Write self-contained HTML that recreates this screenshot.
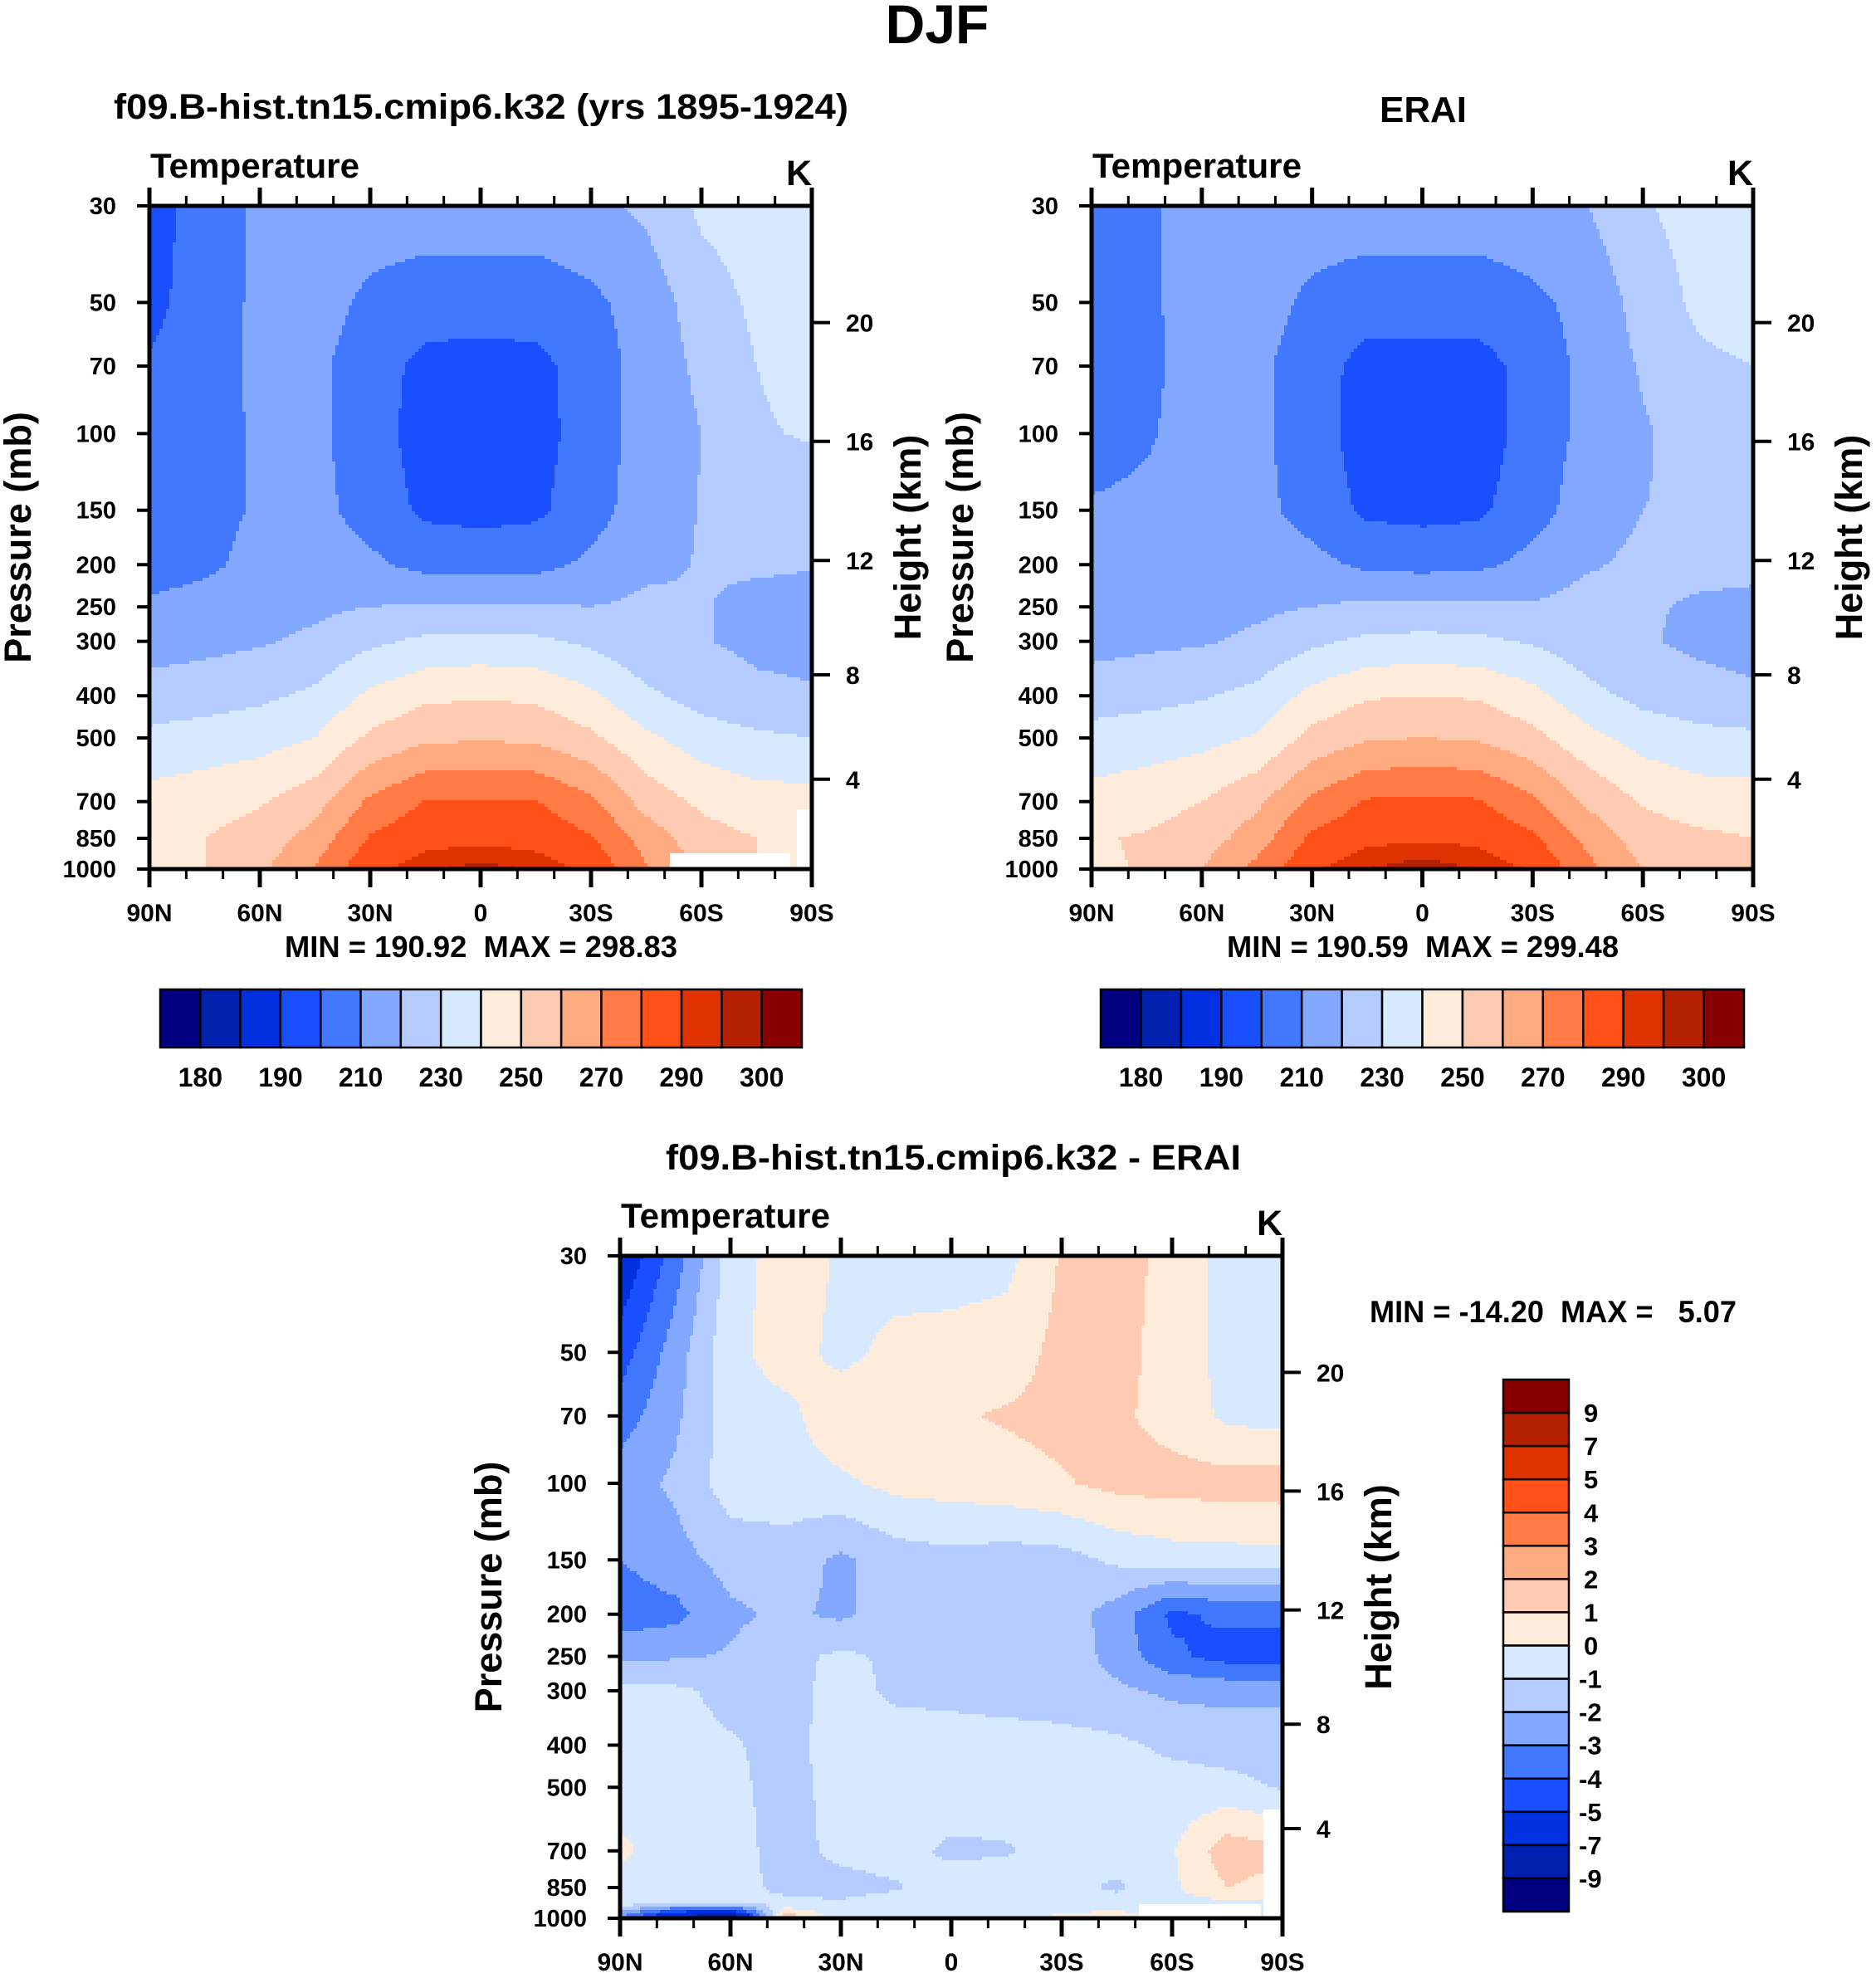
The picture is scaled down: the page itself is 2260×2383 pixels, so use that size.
<!DOCTYPE html>
<html><head><meta charset="utf-8">
<style>
html,body{margin:0;padding:0;background:#fff;}
svg{display:block;}
text{font-family:"Liberation Sans",Arial,sans-serif;font-weight:bold;fill:#000;}
</style></head>
<body>
<svg id="root" width="2260" height="2383" viewBox="0 0 2260 2383" xmlns="http://www.w3.org/2000/svg">
<text x="1129" y="52" font-size="66" text-anchor="middle">DJF</text>
<text x="137" y="143" font-size="43" textLength="885" lengthAdjust="spacingAndGlyphs">f09.B-hist.tn15.cmip6.k32 (yrs 1895-1924)</text>
<text x="1662" y="147" font-size="44" textLength="105" lengthAdjust="spacingAndGlyphs">ERAI</text>
<text x="802" y="1409" font-size="43" textLength="693" lengthAdjust="spacingAndGlyphs">f09.B-hist.tn15.cmip6.k32 - ERAI</text>
<text x="343" y="1153" font-size="36" textLength="473" lengthAdjust="spacingAndGlyphs" xml:space="preserve">MIN = 190.92  MAX = 298.83</text>
<text x="1478" y="1153" font-size="36" textLength="472" lengthAdjust="spacingAndGlyphs" xml:space="preserve">MIN = 190.59  MAX = 299.48</text>
<text x="1650" y="1593" font-size="37" textLength="442" lengthAdjust="spacingAndGlyphs" xml:space="preserve">MIN = -14.20  MAX =   5.07</text>
<g id="panels"></g>
</svg>
<script>
// ---------- data ----------
const latLabels = ["90N","60N","30N","0","30S","60S","90S"];
const gridLats = [90,75,60,45,30,15,0,-15,-30,-45,-60,-75,-90];
const tLevels = [30,50,70,100,150,200,250,300,400,500,700,850,1000];
const tempBounds = [180,185,190,200,210,220,230,240,250,260,270,280,290,295,300];
const tempTickLabels = ["180","190","210","230","250","270","290","300"];
const diffBounds = [-9,-7,-5,-4,-3,-2,-1,0,1,2,3,4,5,7,9];
const diffTickLabels = ["9","7","5","4","3","2","1","0","-1","-2","-3","-4","-5","-7","-9"];
const pressureTicks = [30,50,70,100,150,200,250,300,400,500,700,850,1000];
const heightTicks = [4,8,12,16,20];
const heightTickPressure = [622,358,195.6,104.2,55.6];
const palette = ["#000080","#0020b0","#0030e0","#1a4fff","#4178ff","#82a8ff","#b4ccff","#d7e9ff","#feebd9","#fecbb2","#feab82","#ff7a45","#ff5018","#e03200","#b52000","#880000"];

const modelTemp = [
 [196,204,212,215,215,215,215,215,217,222,232,235,235],
 [197,205,212,214,208,205,205,205,208,214,225,232,235],
 [201,206,212,212,205,197,196,197,205,214,222,230,233],
 [203,207,211,212,205,195,194,196,205,214,220,229,231],
 [204,207,211,213,206,198,197,198,206,215,220.5,223,223],
 [205,208,213,215,212,207,206,207,212,218,220.5,221,220.5],
 [212,214,216,218,220,221,221,221,220,222,220.5,218,217],
 [215,217,219,222,228,232,233,232,228,222,220.5,218,217],
 [225,226,228,232,242,248,249,248,242,232,226,222,221],
 [232,234,236,240,252,258,259,258,252,242,235,232,230],
 [244,246,249,256,272,280.5,281,280.5,272,256,248,244,244],
 [248,250,254,264,281,287,288,287,281,266,254,250,248],
 [246,250,258,271,288,294,297,294,288,271,258,250,245]];
const eraTemp = [
 [204,208,215,215,215,215,215,215,216,220,229,234,235],
 [204,208,215,214,208,205,205,205,208,213,224,232,235],
 [205,208,214,212,205,196,196,196,204,213,221,228,230],
 [206,209,214,212,205,195,194,195,204,213,219,224,225],
 [211,212,214,213,206,198,197,198,206,215,220,221,221],
 [213,214,216,215,213,208,207,208,213,219,222,222,222],
 [214,215,216,218,220,222,222,222,221,224,221,219,218],
 [216,218,219,222,228,232,233,232,229,224,221,218,216],
 [226,227,229,233,243,249,250,249,243,233,227,224,222],
 [233,235,237,241,253,259,260,259,253,243,236,233,232],
 [244,246,250,258,272,281,282,281,272,258,249,245,245],
 [249,251,255,265,282,288,289,288,282,267,255,252,250],
 [248,251,260,273,289,295,298,295,289,273,260,253,252]];
const dLevels = [30,50,70,100,150,200,250,300,400,500,700,850,925,1000];
const diffTemp = [
 [-6,-3.5,-0.5,0.5,-0.1,-0.5,-0.5,-0.3,1.1,1.5,0.6,-0.3,-0.5],
 [-4.5,-2.5,-0.3,0.5,-0.3,0.3,0.4,0.5,1.3,1.4,0.5,-0.3,-0.8],
 [-3.5,-2.2,-0.5,-0.3,0.7,1.0,0.9,1.1,1.3,1.2,0.6,-0.2,-0.4],
 [-2.5,-1.8,-0.5,-0.4,-0.2,0.3,0.4,0.6,0.9,1.3,1.4,1.4,1.5],
 [-3.0,-2.4,-1.6,-1.5,-2.2,-1.5,-1.3,-1.5,-1.4,-0.8,-0.5,-0.4,-0.4],
 [-3.6,-3.3,-2.2,-1.8,-2.2,-1.5,-1.4,-1.3,-1.4,-2.5,-4.2,-3.8,-3.8],
 [-2.2,-2.1,-1.9,-1.3,-0.8,-1.2,-1.3,-1.6,-1.3,-2.4,-3.8,-4.4,-4.5],
 [-0.7,-0.8,-1.3,-1.4,-0.6,-1.2,-1.3,-1.5,-1.6,-1.8,-2.2,-2.3,-2.3],
 [-0.5,-0.6,-0.9,-1.3,-0.6,-0.5,-0.5,-0.5,-0.6,-0.8,-1.2,-1.4,-1.4],
 [-0.5,-0.6,-0.8,-1.3,-0.7,-0.4,-0.4,-0.4,-0.5,-0.6,-0.6,-0.7,-1.1],
 [0.2,-0.5,-0.7,-1.3,-0.8,-0.6,-1.2,-1.1,-0.6,-0.4,-0.1,1.6,1.2],
 [-0.5,-0.5,-0.7,-1.2,-1.3,-1.1,-0.5,-0.4,-0.6,-1.2,-0.2,1.0,0.6],
 [-0.6,-0.8,-0.9,-0.8,-0.9,-0.6,-0.4,-0.4,-0.5,-0.5,-0.3,-0.3,-0.3],
 [-3,-8,-10,2,-0.5,-0.4,-0.3,-0.5,0.3,0.5,-0.3,-0.5,-0.5]];

// ---------- helpers ----------
const NS="http://www.w3.org/2000/svg";
const panels=document.getElementById('panels');
function mk(tag,attrs,parent){const e=document.createElementNS(NS,tag);for(const k in attrs)e.setAttribute(k,attrs[k]);(parent||panels).appendChild(e);return e;}
function binIndex(v,bounds){let i=0;while(i<bounds.length&&v>=bounds[i])i++;return i;}

function drawPanel(name,x0,y0,W,H,levels,grid,bounds,mask){
  const g=mk('g',{});
  
  
  const lp0=Math.log(30),lp1=Math.log(1000);
  const xOfLat=lat=>x0+(90-lat)/180*W;
  const yOfP=p=>y0+(Math.log(p)-lp0)/(lp1-lp0)*H;
  const lgl=levels.map(p=>Math.log(p));
  function sample(px,py){
    const lat=90-(px-x0)/W*180;
    let fi=(90-lat)/15; if(fi<0)fi=0; if(fi>gridLats.length-1)fi=gridLats.length-1;
    let i0=Math.min(Math.floor(fi),gridLats.length-2); const fx=fi-i0;
    const lp=lp0+(py-y0)/H*(lp1-lp0);
    let j0=0; while(j0<lgl.length-2&&lp>lgl[j0+1])j0++;
    let fy=(lp-lgl[j0])/(lgl[j0+1]-lgl[j0]); fy=Math.max(0,Math.min(1,fy));
    const a=grid[j0][i0],b=grid[j0][i0+1],c=grid[j0+1][i0],d=grid[j0+1][i0+1];
    return (a*(1-fx)+b*fx)*(1-fy)+(c*(1-fx)+d*fx)*fy;
  }
  const cs=4, nx=Math.ceil(W/cs), ny=Math.ceil(H/cs);
  const fg=mk('g',{},g);
  
  
  for(let r=0;r<ny;r++){
    const py=y0+(r+0.5)*cs; let runStart=0, runCol=-1;
    for(let c=0;c<=nx;c++){
      const col=c<nx?binIndex(sample(x0+(c+0.5)*cs,py),bounds):-2;
      if(col!==runCol){
        if(runCol>=0){
          const rx=x0+runStart*cs, rw=Math.min(c*cs,W)-runStart*cs;
          const rh=Math.min(cs,H-r*cs);
          const rc=mk('rect',{x:rx,y:y0+r*cs,width:rw+0.6,height:rh+0.6,fill:palette[runCol]},fg);
          
          
        }
        runStart=c; runCol=col;
      }
    }
  }
  (mask||[]).forEach(m=>{const mr=mk('rect',{x:m[0],y:m[1],width:m[2],height:m[3],fill:'#fff'},g);
    
    });
  const fr=mk('rect',{x:x0,y:y0,width:W,height:H,fill:'none',stroke:'#000','stroke-width':5},g);
  
  
  for(let lat=90;lat>=-90;lat-=10){
    const x=xOfLat(lat), major=(lat%30===0);
    const L=major?22:12;
    mk('line',{x1:x,y1:y0,x2:x,y2:y0-L,stroke:'#000','stroke-width':major?5:3},g);
    mk('line',{x1:x,y1:y0+H,x2:x,y2:y0+H+L,stroke:'#000','stroke-width':major?5:3},g);
  }
  latLabels.forEach((lb,i)=>{
    const t=mk('text',{x:xOfLat(90-30*i),y:y0+H+63,'font-size':30,'text-anchor':'middle'},g);
    t.textContent=lb;
    
    
  });
  pressureTicks.forEach(p=>{
    const y=yOfP(p);
    mk('line',{x1:x0,y1:y,x2:x0-15,y2:y,stroke:'#000','stroke-width':4},g);
    const t=mk('text',{x:x0-40,y:y+10,'font-size':29,'text-anchor':'end'},g);
    t.textContent=String(p);
    
    
  });
  heightTicks.forEach((z,i)=>{
    const y=yOfP(heightTickPressure[i]);
    mk('line',{x1:x0+W,y1:y,x2:x0+W+22,y2:y,stroke:'#000','stroke-width':4},g);
    const t=mk('text',{x:x0+W+41,y:y+11,'font-size':30},g);
    t.textContent=String(z);
    
    
  });
  const tt=mk('text',{x:x0+1,y:y0-34,'font-size':42,textLength:252,lengthAdjust:'spacingAndGlyphs'},g); tt.textContent='Temperature';
  
  
  const kk=mk('text',{x:x0+W,y:y0-25,'font-size':43,'text-anchor':'end'},g); kk.textContent='K';
  
  
  const yl=mk('text',{x:0,y:0,'font-size':45,'text-anchor':'middle',transform:`translate(${x0-143},${y0+H/2}) rotate(-90)`},g);
  yl.textContent='Pressure (mb)';
  
  
  const hl=mk('text',{x:0,y:0,'font-size':45,'text-anchor':'middle',transform:`translate(${x0+W+131},${y0+H/2}) rotate(-90)`},g);
  hl.textContent='Height (km)';
  
  
}

function hColorbar(name,x0,y0,W,H){
  const g=mk('g',{});
  
  
  const bw=W/palette.length;
  palette.forEach((c,i)=>{const r=mk('rect',{x:x0+i*bw,y:y0,width:bw,height:H,fill:c,stroke:'#000','stroke-width':2.5},g);
    
    });
  tempTickLabels.forEach((lb,k)=>{
    const t=mk('text',{x:x0+(2*k+1)*bw,y:y0+H+47,'font-size':32,'text-anchor':'middle'},g);
    t.textContent=lb;
    
    
  });
}
function vColorbar(name,x0,y0,W,H){
  const g=mk('g',{});
  
  
  const bh=H/palette.length;
  palette.slice().reverse().forEach((c,i)=>{const r=mk('rect',{x:x0,y:y0+i*bh,width:W,height:bh,fill:c,stroke:'#000','stroke-width':2.5},g);
    
    });
  diffTickLabels.forEach((lb,k)=>{
    const t=mk('text',{x:x0+W+(lb.length>1?12:18),y:y0+(k+1)*bh+11,'font-size':31},g);
    t.textContent=lb;
    
    
  });
}

drawPanel('model',180,248,798,799,tLevels,modelTemp,tempBounds,[[807,1028,145,17],[960,975,16,70]]);
drawPanel('erai',1315,248,797,799,tLevels,eraTemp,tempBounds,[]);
drawPanel('diff',747,1513,798,798,dLevels,diffTemp,diffBounds,[[1372,2294,147,17],[1522,2180,21,130]]);
hColorbar('model-colorbar',193,1192,773,70);
hColorbar('erai-colorbar',1326,1192,775,70);
vColorbar('diff-colorbar',1811,1662,79,641);
</script>
</body></html>
